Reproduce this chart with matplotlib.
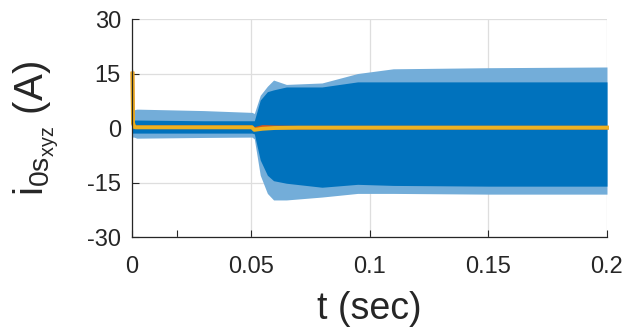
import numpy as np
import matplotlib
matplotlib.use('Agg')
import matplotlib.pyplot as plt

plt.rcParams['font.family'] = ['Liberation Sans', 'DejaVu Sans']
plt.rcParams['mathtext.fontset'] = 'custom'
plt.rcParams['mathtext.rm'] = 'Liberation Sans'
plt.rcParams['mathtext.it'] = 'Liberation Sans'
plt.rcParams['axes.unicode_minus'] = False

# envelope of the blue current
t_env = [0, 0.0003, 0.0008, 0.002, 0.03, 0.0505, 0.0515, 0.054, 0.057, 0.0596, 0.065, 0.08, 0.095, 0.11, 0.15, 0.2]
outer_top = [17.0, 16.0, 5.0, 5.2, 4.8, 4.3, 4.0, 9.0, 11.5, 13.2, 12.0, 12.4, 15.0, 16.3, 16.6, 16.8]
inner_top = [2.2, 2.2, 2.2, 2.2, 2.0, 2.0, 2.0, 7.7, 10.0, 10.5, 11.3, 11.3, 12.7, 12.7, 12.7, 12.7]
inner_bot = [-1.4, -1.4, -1.4, -1.4, -1.4, -1.4, -1.6, -8.8, -13.0, -14.5, -15.2, -16.3, -15.5, -15.8, -16.0, -16.0]
outer_bot = [-2.5, -2.5, -2.5, -2.8, -2.6, -2.5, -3.0, -13.0, -18.0, -19.8, -19.8, -19.0, -18.0, -18.0, -18.2, -18.2]

# yellow and red (mostly hidden) traces
t_line = [0.0002, 0.0004, 0.0009, 0.0015, 0.0505, 0.0515, 0.055, 0.06, 0.07, 0.2]
yellow = [15.0, 1.5, 0.3, 0.2, 0.2, -0.5, -0.2, 0.0, 0.1, 0.1]
red = [15.0, 1.5, 0.3, 0.2, 0.2, -0.3, 0.3, 0.2, 0.1, 0.1]

xticks = [0, 0.05, 0.1, 0.15, 0.2]
xticklabels = ['0', '0.05', '0.1', '0.15', '0.2']
minor_xticks = [0.019]
yticks = [-30, -15, 0, 15, 30]

blue = (0, 0.447, 0.741)
light = (0.45, 0.68, 0.85)
gray = (0.15, 0.15, 0.15)

fig = plt.figure(figsize=(6.23, 3.28), dpi=100)
ax = fig.add_axes([0.2119, 0.2774, 0.7624, 0.6646])

ax.fill_between(t_env, outer_bot, outer_top, color=light, lw=0)
ax.fill_between(t_env, inner_bot, inner_top, color=blue, lw=0)
ax.plot(t_line, red, color=(0.85, 0.325, 0.098), lw=2.6, clip_on=False)
ax.plot(t_line, yellow, color=(0.929, 0.694, 0.125), lw=2.8, clip_on=False)

ax.set_xlim(0, 0.2)
ax.set_ylim(-30, 30)
ax.set_xticks(xticks)
ax.set_xticklabels(xticklabels)
ax.set_xticks(minor_xticks, minor=True)
ax.set_yticks(yticks)
ax.grid(True, color=(0.87, 0.87, 0.87), lw=0.9)
ax.set_axisbelow(True)

for s in ['top', 'right']:
    ax.spines[s].set_visible(False)
for s in ['left', 'bottom']:
    ax.spines[s].set_color(gray)
    ax.spines[s].set_linewidth(0.9)

ax.tick_params(axis='both', which='both', direction='in', length=5, width=0.8,
               color=gray, labelcolor=gray, labelsize=17)
ax.tick_params(axis='x', pad=14)
ax.tick_params(axis='y', pad=8)

ax.set_xlabel('t (sec)', fontsize=27, color=gray, labelpad=9)
ax.set_ylabel(r'$\mathregular{i_{0s_{xyz}}}$ (A)', fontsize=29, color=gray, labelpad=19)

fig.savefig('out.png', dpi=100)
